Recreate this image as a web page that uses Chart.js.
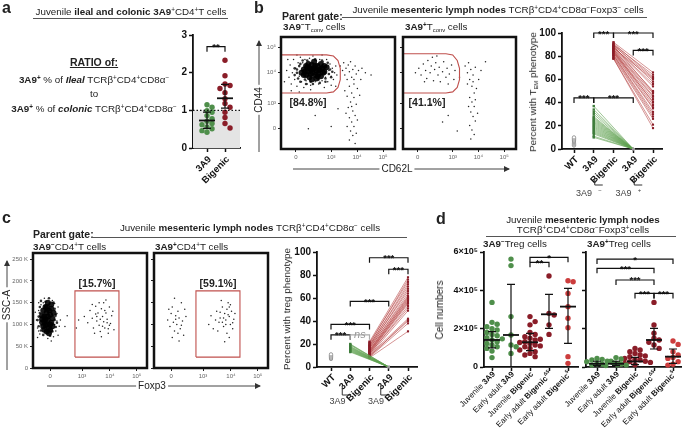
<!DOCTYPE html>
<html>
<head>
<meta charset="utf-8">
<title>3A9 / Bigenic lymph node figure</title>
<script src="https://cdn.jsdelivr.net/npm/chart.js@4.4.1/dist/chart.umd.min.js"></script>
<style>
  body { margin: 0; width: 685px; height: 442px; position: relative; overflow: hidden; background: #fff;
         font-family: Arial, "Liberation Sans", Helvetica, sans-serif; color: #222; }
  canvas, svg { position: absolute; left: 0; top: 0; }
  .t { position: absolute; white-space: nowrap; font-size: 9.8px; line-height: 1; }
  .c { transform: translateX(-50%); }
  .v { transform: translate(-50%, -50%) rotate(-90deg); background: #fff; padding: 0 2px; }
  .t sup { font-size: 65%; position: relative; top: -0.45em; vertical-align: baseline; }
  .t sub { font-size: 60%; position: relative; top: 0.3em; vertical-align: baseline; }
  .lab { font-size: 16px; font-weight: bold; }
  .pg { font-size: 10.5px; font-weight: bold; }
  .pct { font-size: 10.5px; font-weight: bold; }
  .rule { position: absolute; height: 1px; background: #555; }
</style>
</head>
<body>
<svg width="685" height="442">
  <defs>
    <marker id="ah" markerWidth="6" markerHeight="6" refX="5" refY="3" orient="auto">
      <path d="M0,0 L6,3 L0,6 z" fill="#333"/>
    </marker>
  </defs>
  <line x1="259" y1="152" x2="259" y2="41" stroke="#444" stroke-width="1" marker-end="url(#ah)"/>
  <line x1="293" y1="169" x2="509" y2="169" stroke="#444" stroke-width="1" marker-end="url(#ah)"/>
  <line x1="7" y1="370" x2="7" y2="261" stroke="#444" stroke-width="1" marker-end="url(#ah)"/>
  <line x1="47" y1="386" x2="260" y2="386" stroke="#444" stroke-width="1" marker-end="url(#ah)"/>
</svg>

<script>
// ---------- panel a : ileal / colonic ratio ----------
const ratioCats = ['3A9', 'Bigenic'];
const ratio3A9 = [1.15, 1.08, 0.99, 0.95, 0.86, 0.78, 0.71, 0.65, 0.62, 0.56, 0.51, 0.46, 0.42];
const ratioBigenic = [2.33, 1.92, 1.70, 1.66, 1.58, 1.47, 1.31, 1.18, 1.08, 0.95, 0.81, 0.65, 0.53];
const ratioMid = [0.73, 1.32];
const ratioLo = [0.52, 1.06];
const ratioHi = [0.95, 1.69];
const ratioSig = [[0, 1, 2.69, '**']];

// ---------- panel b : TEM phenotype ----------
const temCats = ['WT', '3A9', 'Bigenic', '3A9', 'Bigenic'];
const temWT = [3, 4, 5, 6, 7, 8, 9, 10];
const tem3A9Neg = [37, 34, 32, 30, 28, 27, 26, 25, 24, 23, 22, 21, 20, 19, 18, 17, 16, 15, 14, 13, 11, 10];
const tem3A9Pos = [0, 0, 0, 0, 0, 0, 0, 0, 0, 0, 0, 0, 0, 0, 0, 0, 0, 0, 0, 0, 0, 0];
const temBigNeg = [92, 91, 90, 90, 89, 89, 88, 88, 87, 87, 86, 86, 85, 85, 84, 84, 83, 83, 82, 81, 81, 80, 79, 78, 78];
const temBigPos = [66, 62, 64, 58, 61, 49, 56, 54, 50, 60, 48, 46, 45, 40, 43, 38, 41, 36, 35, 32, 30, 28, 26, 21, 18];
const temSig = [[0, 1, 44, '***'], [1, 3, 44, '***'], [1, 2, 100, '***'], [2, 4, 100, '***'], [3, 4, 85, '***']];

// ---------- panel c : Treg phenotype ----------
const tregWT = [7, 8, 9, 10, 11];
const treg3A9Neg = [20, 19.5, 19, 18, 17.5, 17, 16.5, 16, 15.5, 15, 14.5, 14, 13.5, 13];
const treg3A9Pos = [0, 0, 0, 0, 0, 0, 0, 0, 0, 0, 0, 0, 0, 0];
const tregBigNeg = [22, 21, 20, 19, 18.5, 18, 17, 16.5, 16, 15, 14.5, 14, 13.5, 13, 12.5, 12, 11.5, 11, 10.5, 10, 9.5, 9, 8.5, 8];
const tregBigPos = [78, 74, 76, 70, 72, 66, 68, 62, 64, 60, 61, 58, 59, 56, 57, 55, 51, 53, 42, 49, 40, 41, 38, 31];
const tregSig = [[0, 1, 28, '***'], [1, 2, 28, 'ns'], [0, 2, 37, '***'], [1, 3, 57, '***'], [2, 4, 95, '***'], [3, 4, 85, '***']];

// ---------- panel d : cell numbers (x 10^5) ----------
const cellLabels = [
  [['Juvenile ', 'n'], ['3A9', 'b']],
  [['Early adult ', 'n'], ['3A9', 'b']],
  [['Juvenile ', 'n'], ['Bigenic', 'b']],
  [['Early adult ', 'n'], ['Bigenic', 'b'], ['Δ5', 'sup']],
  [['Early adult ', 'n'], ['Bigenic', 'b'], ['5', 'sup']]
];
const negJuv3A9 = [3.37, 2.33, 2.23, 2.1, 2.0, 1.93, 1.8, 1.7, 1.63, 1.53, 1.47, 1.41, 1.32, 1.23, 1.15, 1.06, 0.97, 0.83, 0.49];
const negEA3A9 = [5.63, 5.29, 2.63, 1.67, 1.15, 1.06, 0.71];
const negJuvBig = [2.63, 2.37, 2.2, 1.8, 1.7, 1.58, 1.5, 1.45, 1.41, 1.32, 1.28, 1.23, 1.15, 1.1, 1.06, 0.97, 0.89, 0.8, 0.71, 0.63, 0.54];
const negBigD5 = [4.75, 2.8, 2.71, 2.2, 1.7];
const negBig5 = [4.5, 4.45, 3.84, 3.15, 2.54, 2.05, 0.54, 0.19];
const negMid = [1.41, 1.67, 1.29, 2.75, 3.15];
const negLo = [1.0, 0, 0.85, 2.02, 1.23];
const negHi = [1.85, 4.31, 1.75, 3.79, 4.1];
const negSig = [[2, 3, 5.46, '**'], [2, 4, 5.72, '*']];

const posJuv3A9 = [0.45, 0.4, 0.37, 0.3, 0.28, 0.24, 0.2, 0.17, 0.14, 0.12, 0.1, 0.08];
const posEA3A9 = [0.49, 0.42, 0.3, 0.2, 0.15, 0.1, 0.08];
const posJuvBig = [0.97, 0.89, 0.8, 0.71, 0.63, 0.58, 0.54, 0.45, 0.4, 0.37, 0.3, 0.28, 0.24, 0.19, 0.15, 0.12];
const posBigD5 = [3.37, 2.19, 1.76, 1.5, 1.41, 1.29, 1.15, 0.97];
const posBig5 = [1.36, 1.18, 0.8, 0.63, 0.5, 0.45, 0.28, 0.14, 0.1];
const posMid = [0.17, 0.17, 0.29, 1.41, 0.54];
const posLo = [0.08, 0.07, 0.12, 0.94, 0.19];
const posHi = [0.3, 0.3, 0.5, 2.02, 0.94];
const posSig = [[0, 4, 5.63, '*'], [0, 3, 5.15, '***'], [1, 3, 4.54, '***'], [2, 3, 3.84, '***'], [3, 4, 3.84, '***']];

// ---------- flow plots (display channel units 0-100, SSC in K) ----------
const cd62lTicks = [13, 44, 66.7, 89.5];
const cd44Ticks = [18.75, 41, 68.75, 91];
const logLabels = ['0', '10³', '10⁴', '10⁵'];
const foxp3Ticks = [15, 43, 67.5, 91];
const sscTicks = [0, 50, 100, 150, 200, 250];

const gateTem1 = [[0, 84], [40, 84], [46, 83], [50, 79], [52, 72], [52, 62], [50, 55], [46, 51], [40, 50], [0, 50]];
const gateTem2 = [[0, 85], [38, 85], [44, 84], [48, 79], [50, 72], [50, 62], [48, 55], [44, 51], [38, 50], [0, 50]];
const gateTreg = [[36.8, 25], [36.8, 177], [75.4, 177], [75.4, 25], [36.8, 25]];

const b1Dense = [[18,68],[20,71],[22,66],[23,73],[24,69],[25,64],[26,71],[27,75],[28,68],[29,72],[30,66],[31,70],[32,74],[33,67],[34,71],[35,65],[36,72],[38,69],[27,62],[31,63],[22,74],[40,73],[29,78],[24,76],[35,76],
  [20,66],[26,67],[30,74],[33,70],[37,68],[28,71],[25,72],[32,65],[21,69],[38,74]];
const b1Mid = [[12,66],[14,71],[15,63],[16,74],[17,60],[19,79],[21,62],[23,79],[26,60],[30,80],[33,62],[36,79],[39,63],[41,77],[42,67],[43,71],[44,64],[14,68],[17,76],[39,60],[28,58],[34,59],[45,69],[12,72],[22,58]];
const b1Sparse = [[5,70],[7,64],[8,75],[9,58],[10,68],[11,80],[12,62],[13,72],[14,56],[15,77],[16,65],[17,82],[18,60],[19,77],[20,55],[21,80],[22,61],[23,58],[25,81],[26,57],[28,83],[30,60],[31,79],[33,58],[34,80],[36,61],[37,78],[39,64],[40,80],[41,60],[42,70],[43,76],[44,65],[45,72],[46,62],[47,68],[48,74],[38,55],[14,84],[6,80],[3,60],[9,52],[36,84],[44,57],[49,66],[26,53],[16,51],
  [52,74],[54,70],[55,77],[56,66],[57,72],[58,62],[59,75],[60,69],[61,78],[62,64],[63,71],[64,58],[65,74],[66,67],[67,54],[68,70],[60,56],[62,50],[58,47],[64,46],[61,42],[66,40],[59,37],[63,34],[65,30],[60,28],[62,24],[64,20],[61,16],[63,12],[60,8],[65,5],[57,32],[67,26],[58,20],[66,14],[69,48],[70,62],[56,52],[62,38],[64,62],[71,72],[30,30],[36,42],[44,20],[24,18],[50,36],[74,68],[79,66],[48,56]];
const b2Sparse = [[14,72],[16,66],[18,76],[20,70],[21,63],[22,79],[24,68],[25,74],[27,61],[28,71],[29,77],[31,66],[32,73],[33,60],[35,69],[36,78],[38,64],[39,72],[41,67],[43,75],[45,62],[46,70],[26,82],[19,60],[40,58],[11,68],[30,83],
  [55,74],[57,68],[58,77],[59,62],[60,71],[61,56],[62,66],[63,50],[64,73],[59,46],[61,42],[63,38],[60,33],[62,29],[64,25],[59,21],[61,17],[63,13],[60,9],[65,54],[57,58],[67,62],[69,70],[58,38],[66,32],[62,60],[64,44],
  [25,40],[40,30],[48,16],[35,24],[73,78],[50,64]];
const c1Dense = [[8,105],[10,118],[11,98],[12,128],[13,110],[14,92],[15,122],[16,104],[12,140],[9,132],[14,80],[10,88],[17,114],[13,150],[11,112],[16,136],[8,120],[15,100],[12,84],[18,126],
  [9,95],[11,140],[14,132],[17,96],[10,106],[13,118],[15,88],[16,146],[8,112],[12,100]];
const c1Mid = [[4,110],[5,96],[6,126],[6,140],[7,86],[19,110],[19,136],[20,94],[20,122],[18,150],[11,152],[9,76],[15,74],[17,84],[5,118],[21,104],[7,154],[14,160]];
const c1Sparse = [[3,110],[4,92],[5,132],[5,150],[6,78],[6,118],[7,98],[7,145],[19,148],[19,100],[20,85],[21,125],[21,108],[22,140],[18,72],[17,155],[10,160],[13,68],[16,62],[5,85],[20,118],[23,96],[2,128],[9,150],[19,132],[22,75],[4,70],[24,110],[30,120],[28,95],
  [45,118],[48,104],[50,132],[52,114],[53,92],[55,142],[56,108],[57,126],[58,98],[59,84],[60,136],[61,118],[62,106],[62,150],[63,92],[64,126],[65,112],[66,80],[67,140],[68,102],[69,120],[64,156],[58,150],[60,72],[66,90],[54,80],[52,146],[63,132],[67,98],[40,110],[38,92],[70,130],[56,118],[61,96],[65,104],[59,112],[71,88],[55,124]];
const c2Sparse = [[12,110],[14,95],[15,125],[16,140],[17,105],[18,85],[19,120],[20,100],[21,130],[22,115],[23,90],[24,150],[25,108],[26,75],[27,135],[18,160],[16,70],[28,118],[21,80],[13,135],[24,98],[19,112],[22,62],
  [48,100],[50,120],[52,90],[55,130],[57,105],[58,115],[60,140],[61,95],[62,125],[63,110],[64,80],[65,150],[66,118],[67,100],[68,130],[69,90],[70,112],[62,60],[59,155],[66,70],[56,85],[64,135],[60,105],[71,125],[54,110],[67,145],[63,100],[65,122],[61,115],[69,104],[58,128],[66,140]];

// ---------- colours ----------
const GREEN = '#4f8f4b';
const MAROON = '#8a1d28';
const LIGHTRED = '#cc3d3d';
const GREEN_LINE = 'rgba(95,160,80,0.85)';
const RED_LINE = 'rgba(175,50,50,0.75)';

const W = 685, H = 442;
const F = "Arial, 'Liberation Sans', Helvetica, sans-serif";
Chart.defaults.font.family = F;
Chart.defaults.color = '#111';

function layer() {
  const c = document.createElement('canvas');
  c.width = W; c.height = H;
  document.body.appendChild(c);
  return c;
}

// place each point at the nearest free horizontal slot (deterministic beeswarm)
function swarm(values, tol, step) {
  const placed = [];
  return values.map(v => {
    for (let k = 0; ; k++) {
      const off = (k % 2 ? 1 : -1) * Math.ceil(k / 2) * step;
      if (!placed.some(p => Math.abs(p.y - v) < tol && Math.abs(p.x - off) < step * 0.9)) {
        placed.push({ x: off, y: v });
        return off + 0;
      }
    }
  });
}

function swarmSet(values, idx, color, tol, step) {
  const offs = swarm(values, tol, step);
  return {
    data: values.map((v, k) => ({ x: idx + offs[k], y: v })),
    pointRadius: 2.7, pointBackgroundColor: color, pointBorderWidth: 0, clip: false
  };
}

function pairSets(from, to, i, j, lineCol, ptCol, endCol) {
  return from.map((v, k) => ({
    data: [{ x: i, y: v }, { x: j, y: to[k] }],
    showLine: true, borderColor: lineCol, borderWidth: 0.7,
    pointStyle: 'rect', pointRadius: [1.7, 1.5], pointBackgroundColor: [ptCol, endCol],
    pointBorderWidth: 0, clip: false
  }));
}

function partFont(st, size) {
  if (st === 'b') return `bold ${size}px ${F}`;
  if (st === 'sup') return `bold ${Math.round(size * 0.65)}px ${F}`;
  return `${size}px ${F}`;
}

function measureParts(ctx, parts, size) {
  return parts.map(([t, st]) => {
    ctx.font = partFont(st, size);
    return { t, st, f: ctx.font, w: ctx.measureText(t).width };
  });
}

function drawParts(ctx, segs, startX, size) {
  let cx = startX;
  segs.forEach(s => {
    ctx.font = s.f;
    ctx.fillText(s.t, cx, s.st === 'sup' ? -size * 0.4 : 0);
    cx += s.w;
  });
}

// extra marks drawn with the chart's own scales
function decor(cfg) {
  return {
    id: 'decor',
    beforeDatasetsDraw(chart) {
      const { ctx, chartArea: a, scales: { y } } = chart;
      if (cfg.band) {
        const top = y.getPixelForValue(cfg.band);
        ctx.save();
        ctx.fillStyle = '#e4e4e4';
        ctx.fillRect(a.left, top, a.right - a.left, a.bottom - top);
        ctx.restore();
      }
    },
    afterDatasetsDraw(chart) {
      const { ctx, chartArea: a, scales: { x, y } } = chart;
      ctx.save();
      ctx.strokeStyle = '#111';
      ctx.fillStyle = '#111';
      if (cfg.refLine !== undefined) {
        const py = y.getPixelForValue(cfg.refLine);
        ctx.setLineDash([1.5, 2]);
        ctx.lineWidth = 1.2;
        ctx.beginPath(); ctx.moveTo(a.left, py); ctx.lineTo(a.right, py); ctx.stroke();
        ctx.setLineDash([]);
      }
      if (cfg.errs) {
        const [mid, lo, hi] = cfg.errs;
        mid.forEach((m, i) => {
          const px = x.getPixelForValue(i);
          const pm = y.getPixelForValue(m), pl = y.getPixelForValue(Math.max(lo[i], 0)), ph = y.getPixelForValue(hi[i]);
          ctx.lineWidth = 1.2;
          ctx.beginPath();
          ctx.moveTo(px, pl); ctx.lineTo(px, ph);
          ctx.moveTo(px - 4, ph); ctx.lineTo(px + 4, ph);
          if (lo[i] > 0) { ctx.moveTo(px - 4, pl); ctx.lineTo(px + 4, pl); }
          ctx.stroke();
          ctx.lineWidth = 1.8;
          ctx.beginPath(); ctx.moveTo(px - 8, pm); ctx.lineTo(px + 8, pm); ctx.stroke();
        });
      }
      (cfg.sig || []).forEach(([i, j, v, text]) => {
        const ns = text === 'ns';
        const x1 = x.getPixelForValue(i), x2 = x.getPixelForValue(j), py = y.getPixelForValue(v);
        ctx.strokeStyle = ns ? '#aaa' : '#111';
        ctx.lineWidth = 1.2;
        ctx.beginPath();
        ctx.moveTo(x1, py + 5); ctx.lineTo(x1, py); ctx.lineTo(x2, py); ctx.lineTo(x2, py + 5);
        ctx.stroke();
        ctx.fillStyle = ns ? '#999' : '#111';
        ctx.font = ns ? `italic 11px ${F}` : `bold 9.5px ${F}`;
        ctx.textAlign = 'center';
        ctx.textBaseline = 'alphabetic';
        ctx.fillText(text, (x1 + x2) / 2, ns ? py + 3 : py + 3.5);
      });
      ctx.fillStyle = '#111';
      if (cfg.xlab) {
        const { parts, size, dx, dy } = cfg.xlab;
        parts.forEach((p, i) => {
          ctx.save();
          ctx.translate(x.getPixelForValue(i) + dx, a.bottom + dy);
          ctx.rotate(-Math.PI / 4);
          ctx.textBaseline = 'middle';
          ctx.textAlign = 'left';
          const segs = measureParts(ctx, p, size);
          drawParts(ctx, segs, -segs.reduce((s, g) => s + g.w, 0), size);
          ctx.restore();
        });
      }
      if (cfg.groups) {
        const g = cfg.groups;
        g.items.forEach(([i, sign]) => {
          const px = x.getPixelForValue(i);
          ctx.strokeStyle = '#333';
          ctx.lineWidth = 1;
          ctx.beginPath();
          ctx.moveTo(px + g.bx, a.bottom + g.by1);
          ctx.lineTo(px + g.bx, a.bottom + g.by2);
          ctx.lineTo(px + g.bx + 8, a.bottom + g.by2);
          ctx.stroke();
          ctx.save();
          ctx.translate(px + g.tx, a.bottom + g.ty);
          ctx.fillStyle = '#444';
          ctx.textBaseline = 'middle';
          const segs = measureParts(ctx, [['3A9', 'n'], [sign, 'sup']], 9).map(s => ({ ...s, f: s.f.replace('bold ', '') }));
          drawParts(ctx, segs, -segs.reduce((s, q) => s + q.w, 0) / 2, 9);
          ctx.restore();
        });
      }
      if (cfg.frame) {
        ctx.strokeStyle = '#111';
        ctx.lineWidth = 2.5;
        ctx.strokeRect(a.left, a.top, a.right - a.left, a.bottom - a.top);
      }
      ctx.restore();
    }
  };
}

// dot / paired-line chart with categories on a linear x scale
function dotChart(o) {
  const [L, T, R, B] = o.box;
  const [first, step] = o.catPx;
  return new Chart(layer(), {
    type: 'scatter',
    data: { datasets: o.datasets },
    options: {
      responsive: false, animation: false, events: [],
      layout: { padding: { left: L - 40, top: T, right: W - R, bottom: H - B - 30 } },
      plugins: { legend: { display: false }, tooltip: { enabled: false } },
      scales: {
        x: {
          type: 'linear', min: (L - first) / step, max: (R - first) / step,
          afterFit: s => { s.height = 30; },
          afterBuildTicks: s => { s.ticks = o.nCats.map(v => ({ value: v })); },
          border: { color: '#111', width: 1.8 },
          grid: { drawOnChartArea: false, tickLength: 4, tickWidth: 1.5, color: '#111' },
          ticks: { display: false }
        },
        y: {
          type: 'linear', min: o.yMin, max: o.yMax,
          afterFit: s => { s.width = 40; },
          border: { color: '#111', width: 1.8 },
          grid: { drawOnChartArea: false, tickLength: 4, tickWidth: 1.5, color: '#111' },
          ticks: {
            display: o.yLabel !== null, stepSize: o.yStep, padding: 2, color: '#111',
            font: { size: o.yFont || 10, weight: 'bold' }, callback: o.yLabel || (v => v)
          }
        }
      }
    },
    plugins: [decor(o.cfg)]
  });
}

// flow cytometry dot plot
function flowChart(o) {
  const [L, T, R, B] = o.box;
  return new Chart(layer(), {
    type: 'scatter',
    data: { datasets: o.datasets },
    options: {
      responsive: false, animation: false, events: [],
      layout: { padding: { left: L - 30, top: T, right: W - R, bottom: H - B - 16 } },
      plugins: { legend: { display: false }, tooltip: { enabled: false } },
      scales: {
        x: {
          type: 'linear', min: 0, max: 100,
          afterFit: s => { s.height = 16; },
          afterBuildTicks: s => { s.ticks = o.xTicks.map(v => ({ value: v })); },
          border: { display: false },
          grid: { drawOnChartArea: false, tickLength: 3, tickWidth: 1, color: '#222' },
          ticks: { autoSkip: false, maxRotation: 0, padding: 2, color: '#666', font: { size: 6 },
                   callback: (v, i) => o.xLabels[i] }
        },
        y: {
          type: 'linear', min: 0, max: o.yMax,
          afterFit: s => { s.width = 30; },
          afterBuildTicks: s => { s.ticks = o.yTicks.map(v => ({ value: v })); },
          border: { display: false },
          grid: { drawOnChartArea: false, tickLength: 3, tickWidth: 1, color: '#222' },
          ticks: { display: !!o.yLabels, autoSkip: false, padding: 2, color: '#666', font: { size: 6 },
                   callback: (v, i) => o.yLabels ? o.yLabels[i] : '' }
        }
      }
    },
    plugins: [decor({ frame: true })]
  });
}

const pts = arr => arr.map(([x, y]) => ({ x, y }));
const gateSet = g => ({ data: pts(g), showLine: true, borderColor: '#c0504d', borderWidth: 1.1, pointRadius: 0, clip: false });
const denseSet = arr => ({ data: pts(arr), pointRadius: 3, pointBackgroundColor: 'rgba(0,0,0,0.9)', pointBorderWidth: 0 });
const midSet = arr => ({ data: pts(arr), pointRadius: 1.3, pointBackgroundColor: 'rgba(0,0,0,0.8)', pointBorderWidth: 0 });
const sparseSet = arr => ({ data: pts(arr), pointRadius: 0.75, pointBackgroundColor: '#222', pointBorderWidth: 0 });
const wtSet = vals => ({ data: vals.map(v => ({ x: 0, y: v })), pointRadius: 1.7, pointBackgroundColor: '#fff',
                         pointBorderColor: '#888', pointBorderWidth: 0.8, clip: false });

// ---- panel a
dotChart({
  box: [193, 35, 240, 148], catPx: [207, 18], nCats: [0, 1],
  yMin: 0, yMax: 3, yStep: 1, yLabel: v => v,
  datasets: [
    swarmSet(ratio3A9, 0, GREEN, 0.13, 0.28),
    swarmSet(ratioBigenic, 1, MAROON, 0.13, 0.28)
  ],
  cfg: {
    band: 1, refLine: 1, errs: [ratioMid, ratioLo, ratioHi], sig: ratioSig,
    xlab: { parts: ratioCats.map(c => [[c, 'b']]), size: 9.5, dx: 3, dy: 10 }
  }
});

// ---- panel b flow plots
flowChart({
  box: [281, 37, 395, 149], yMax: 100, xTicks: cd62lTicks, xLabels: logLabels, yTicks: cd44Ticks, yLabels: logLabels,
  datasets: [gateSet(gateTem1), denseSet(b1Dense), midSet(b1Mid), sparseSet(b1Sparse)]
});
flowChart({
  box: [403, 37, 516, 149], yMax: 100, xTicks: cd62lTicks, xLabels: logLabels, yTicks: cd44Ticks, yLabels: null,
  datasets: [gateSet(gateTem2), sparseSet(b2Sparse)]
});

// ---- panel b paired lines
dotChart({
  box: [562, 33, 662, 149], catPx: [574, 19.75], nCats: [0, 1, 2, 3, 4],
  yMin: 0, yMax: 100, yStep: 20, yLabel: v => v,
  datasets: [
    wtSet(temWT),
    ...pairSets(tem3A9Neg, tem3A9Pos, 1, 3, GREEN_LINE, '#3f7d3c', '#999'),
    ...pairSets(temBigNeg, temBigPos, 2, 4, RED_LINE, MAROON, MAROON)
  ],
  cfg: {
    sig: temSig,
    xlab: { parts: temCats.map(c => [[c, 'b']]), size: 9.5, dx: 3, dy: 9 },
    groups: { items: [[1, '−'], [3, '+']], bx: 1, by1: 28, by2: 36, tx: 0, ty: 45 }
  }
});

// ---- panel c flow plots
flowChart({
  box: [33, 253, 147, 368], yMax: 264, xTicks: foxp3Ticks, xLabels: logLabels, yTicks: sscTicks,
  yLabels: sscTicks.map(v => v === 0 ? '0' : v + ' K'),
  datasets: [gateSet(gateTreg), denseSet(c1Dense), midSet(c1Mid), sparseSet(c1Sparse)]
});
flowChart({
  box: [154, 253, 268, 368], yMax: 264, xTicks: foxp3Ticks, xLabels: logLabels, yTicks: sscTicks, yLabels: null,
  datasets: [gateSet(gateTreg), sparseSet(c2Sparse)]
});

// ---- panel c paired lines
dotChart({
  box: [317, 252, 417, 367], catPx: [331, 19.25], nCats: [0, 1, 2, 3, 4],
  yMin: 0, yMax: 100, yStep: 20, yLabel: v => v,
  datasets: [
    wtSet(tregWT),
    ...pairSets(treg3A9Neg, treg3A9Pos, 1, 3, GREEN_LINE, '#3f7d3c', '#999'),
    ...pairSets(tregBigNeg, tregBigPos, 2, 4, RED_LINE, MAROON, MAROON)
  ],
  cfg: {
    sig: tregSig,
    xlab: { parts: temCats.map(c => [[c, 'b']]), size: 9.5, dx: 3, dy: 9 },
    groups: { items: [[1, '−'], [3, '+']], bx: -8, by1: 20, by2: 28, tx: -3, ty: 35 }
  }
});

// ---- panel d cell numbers
const cellColors = [GREEN, GREEN, MAROON, MAROON, LIGHTRED];
dotChart({
  box: [484, 252, 578, 367], catPx: [492, 19], nCats: [0, 1, 2, 3, 4],
  yMin: 0, yMax: 6, yStep: 2, yFont: 9,
  yLabel: v => v === 0 ? '0' : v + '×10⁵',
  datasets: [negJuv3A9, negEA3A9, negJuvBig, negBigD5, negBig5].map((vals, i) => swarmSet(vals, i, cellColors[i], 0.26, 0.27)),
  cfg: { errs: [negMid, negLo, negHi], sig: negSig, xlab: { parts: cellLabels, size: 8, dx: 2, dy: 6 } }
});
dotChart({
  box: [586, 252, 681, 367], catPx: [597, 19], nCats: [0, 1, 2, 3, 4],
  yMin: 0, yMax: 6, yStep: 2, yLabel: null,
  datasets: [posJuv3A9, posEA3A9, posJuvBig, posBigD5, posBig5].map((vals, i) => swarmSet(vals, i, cellColors[i], 0.26, 0.27)),
  cfg: { errs: [posMid, posLo, posHi], sig: posSig, xlab: { parts: cellLabels, size: 8, dx: 2, dy: 6 } }
});
</script>

<!-- panel a text -->
<div class="t lab" style="left:2px;top:0px">a</div>
<div class="t c" style="left:131px;top:7px">Juvenile <b>ileal and colonic 3A9</b><sup>+</sup>CD4<sup>+</sup>T cells</div>
<div class="rule" style="left:33px;top:18px;width:195px"></div>
<div class="t c" style="left:94px;top:57px;font-size:10.5px;font-weight:bold;text-decoration:underline">RATIO of:</div>
<div class="t c" style="left:94px;top:75px;font-size:9.8px"><b>3A9<sup>+</sup></b> % of <b><i>Ileal</i></b> TCRβ<sup>+</sup>CD4<sup>+</sup>CD8α<sup>−</sup></div>
<div class="t c" style="left:94px;top:89px;font-size:9.8px">to</div>
<div class="t c" style="left:94px;top:104px;font-size:9.8px"><b>3A9<sup>+</sup></b> % of <b><i>colonic</i></b> TCRβ<sup>+</sup>CD4<sup>+</sup>CD8α<sup>−</sup></div>

<!-- panel b text -->
<div class="t lab" style="left:254px;top:0px">b</div>
<div class="t pg" style="left:282px;top:11px">Parent gate:</div>
<div class="t c" style="left:498px;top:5px">Juvenile <b>mesenteric lymph nodes</b> TCRβ<sup>+</sup>CD4<sup>+</sup>CD8α<sup>−</sup>Foxp3<sup>−</sup> cells</div>
<div class="rule" style="left:342px;top:17px;width:305px"></div>
<div class="t" style="left:283px;top:22px"><b>3A9<sup>−</sup></b>T<sub>conv</sub> cells</div>
<div class="t" style="left:405px;top:22px"><b>3A9<sup>+</sup></b>T<sub>conv</sub> cells</div>
<div class="t pct c" style="left:308px;top:97px">[84.8%]</div>
<div class="t pct c" style="left:427px;top:97px">[41.1%]</div>
<div class="t v" style="left:259px;top:100px;font-size:10px">CD44</div>
<div class="t c" style="left:397px;top:164px;font-size:10px;background:#fff;padding:0 2px">CD62L</div>
<div class="t v" style="left:533px;top:92px;font-size:9.8px">Percent with T<sub>EM</sub> phenotype</div>

<!-- panel c text -->
<div class="t lab" style="left:2px;top:210px">c</div>
<div class="t pg" style="left:33px;top:229px">Parent gate:</div>
<div class="t c" style="left:250px;top:223px">Juvenile <b>mesenteric lymph nodes</b> TCRβ<sup>+</sup>CD4<sup>+</sup>CD8α<sup>−</sup> cells</div>
<div class="rule" style="left:92px;top:237px;width:315px"></div>
<div class="t" style="left:33px;top:242px"><b>3A9<sup>−</sup></b>CD4<sup>+</sup>T cells</div>
<div class="t" style="left:155px;top:242px"><b>3A9<sup>+</sup></b>CD4<sup>+</sup>T cells</div>
<div class="t pct c" style="left:97px;top:278px">[15.7%]</div>
<div class="t pct c" style="left:218px;top:278px">[59.1%]</div>
<div class="t v" style="left:7px;top:305px;font-size:10px">SSC-A</div>
<div class="t c" style="left:152px;top:381px;font-size:10px;background:#fff;padding:0 2px">Foxp3</div>
<div class="t v" style="left:287px;top:309px;font-size:9.8px">Percent with treg phenotype</div>

<!-- panel d text -->
<div class="t lab" style="left:436px;top:211px">d</div>
<div class="t c" style="left:583px;top:215px">Juvenile <b>mesenteric lymph nodes</b></div>
<div class="t c" style="left:583px;top:225px">TCRβ<sup>+</sup>CD4<sup>+</sup>CD8α<sup>−</sup>Foxp3<sup>+</sup>cells</div>
<div class="rule" style="left:486px;top:236px;width:190px"></div>
<div class="t" style="left:483px;top:239px"><b>3A9<sup>−</sup></b>Treg cells</div>
<div class="t" style="left:587px;top:239px"><b>3A9<sup>+</sup></b>Treg cells</div>
<div class="t v" style="left:440px;top:310px;font-size:10px">Cell numbers</div>
</body>
</html>
